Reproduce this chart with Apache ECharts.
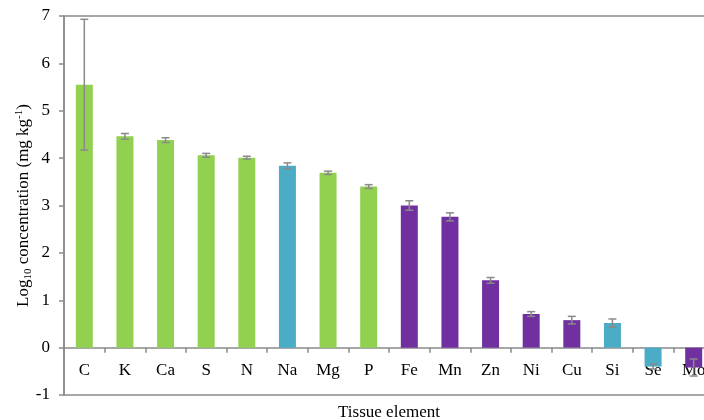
<!DOCTYPE html>
<html>
<head>
<meta charset="utf-8">
<script src="https://cdn.jsdelivr.net/npm/echarts@6/dist/echarts.min.js"></script>
<style>
  html, body { margin: 0; padding: 0; background: #fff; }
  #chart { width: 704px; height: 420px; }
</style>
</head>
<body>
<div id="chart"></div>
<script>
// Elements in tissue, ordered by concentration
const elements = ['C', 'K', 'Ca', 'S', 'N', 'Na', 'Mg', 'P', 'Fe', 'Mn', 'Zn', 'Ni', 'Cu', 'Si', 'Se', 'Mo'];
// Mean log10 concentration (mg kg-1)
const logConc = [5.55, 4.46, 4.38, 4.06, 4.01, 3.84, 3.69, 3.40, 3.00, 2.76, 1.42, 0.71, 0.58, 0.52, -0.40, -0.42];
// Error bar half-width
const errors = [1.38, 0.06, 0.05, 0.04, 0.03, 0.06, 0.035, 0.04, 0.10, 0.085, 0.06, 0.05, 0.08, 0.085, 0.05, 0.18];
// Element group: macro = macronutrient, benef = beneficial, micro = micronutrient
const groups = ['macro', 'macro', 'macro', 'macro', 'macro', 'benef', 'macro', 'macro',
                'micro', 'micro', 'micro', 'micro', 'micro', 'benef', 'benef', 'micro'];
const yTicks = [-1, 0, 1, 2, 3, 4, 5, 6, 7];

const groupColors = { macro: '#92d050', benef: '#4bacc6', micro: '#7030a0' };
const serif = '"Liberation Serif", "Times New Roman", serif';
const gray = '#8a8a8a';
const fs = 17;

const chart = echarts.init(document.getElementById('chart'), null, { renderer: 'canvas' });

const barData = logConc.map((v, i) => ({
  value: v,
  itemStyle: { color: groupColors[groups[i]] }
}));
const errData = logConc.map((v, i) => [i, v - errors[i], v + errors[i]]);

chart.setOption({
  animation: false,
  backgroundColor: '#fff',
  grid: {
    left: 64, top: 16, width: 650, height: 379,
    containLabel: false,
    outerBoundsMode: 'none',
    show: true, borderColor: gray, borderWidth: 1.5, backgroundColor: 'transparent'
  },
  xAxis: {
    type: 'category',
    data: elements,
    axisLine: { onZero: true, lineStyle: { color: gray, width: 1.5 } },
    axisTick: { show: true, alignWithLabel: false, length: 5, lineStyle: { color: gray, width: 1.5 } },
    // labels sit just under the zero line, inside the plot frame
    axisLabel: { color: '#000', fontFamily: serif, fontSize: fs, margin: -33 },
    name: 'Tissue element',
    nameLocation: 'middle',
    nameGap: 9,
    nameMoveOverlap: false,
    nameTextStyle: { color: '#000', fontFamily: serif, fontSize: fs },
    splitLine: { show: false }
  },
  yAxis: {
    type: 'value',
    min: yTicks[0],
    max: yTicks[yTicks.length - 1],
    interval: 1,
    axisLine: { show: true, lineStyle: { color: gray, width: 1.5 } },
    axisTick: { show: true, length: 5, lineStyle: { color: gray, width: 1.5 } },
    axisLabel: { color: '#000', fontFamily: serif, fontSize: fs, margin: 14 },
    splitLine: { show: false },
    name: '{n|Log}{sub|10}{n| concentration (mg kg}{sup|-1}{n|)}',
    nameLocation: 'middle',
    nameGap: 30,
    nameMoveOverlap: false,
    nameTextStyle: {
      color: '#000', fontFamily: serif, fontSize: fs,
      rich: {
        n: { fontFamily: serif, fontSize: fs, color: '#000', lineHeight: 20, verticalAlign: 'middle' },
        sub: { fontFamily: serif, fontSize: 11, color: '#000', lineHeight: 20, verticalAlign: 'bottom' },
        sup: { fontFamily: serif, fontSize: 11, color: '#000', lineHeight: 20, verticalAlign: 'top' }
      }
    }
  },
  series: [
    {
      type: 'bar',
      data: barData,
      barWidth: 17,
      z: 2
    },
    {
      type: 'custom',
      z: 3,
      data: errData,
      encode: { x: 0, y: [1, 2] },
      renderItem: function (params, api) {
        const i = api.value(0);
        const lo = api.coord([i, api.value(1)]);
        const hi = api.coord([i, api.value(2)]);
        const cap = 4;
        const style = { stroke: gray, lineWidth: 1.5, fill: null };
        return {
          type: 'group',
          children: [
            { type: 'line', shape: { x1: lo[0], y1: lo[1], x2: hi[0], y2: hi[1] }, style: style },
            { type: 'line', shape: { x1: hi[0] - cap, y1: hi[1], x2: hi[0] + cap, y2: hi[1] }, style: style },
            { type: 'line', shape: { x1: lo[0] - cap, y1: lo[1], x2: lo[0] + cap, y2: lo[1] }, style: style }
          ]
        };
      }
    }
  ]
});
</script>
</body>
</html>
